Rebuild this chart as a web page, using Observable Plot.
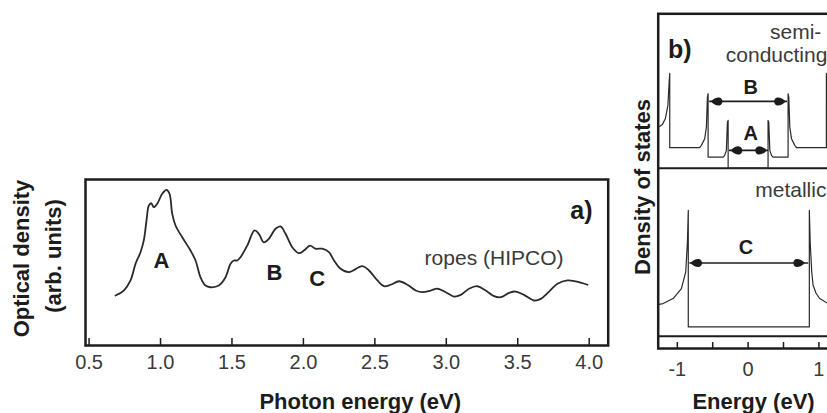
<!DOCTYPE html>
<html><head><meta charset="utf-8">
<script src="https://cdn.jsdelivr.net/npm/d3@7"></script>
<script src="https://cdn.jsdelivr.net/npm/@observablehq/plot@0.6"></script>
<style>
html,body{margin:0;padding:0;background:#fff;}
#wrap{position:relative;width:827px;height:413px;overflow:hidden;background:#fff;}
#wrap svg{position:absolute;top:0;}
</style></head><body><div id="wrap"></div>
<script>
// ---------- Panel a: optical density of HIPCO ropes ----------
const photonEnergy = [0.685,0.743,0.790,0.825,0.860,0.883,0.902,0.918,0.935,0.953,0.977,1.012,1.042,1.063,
  1.082,1.105,1.152,1.210,1.245,1.280,1.315,1.350,1.408,1.455,1.490,1.513,1.537,1.560,
  1.607,1.658,1.688,1.723,1.758,1.805,1.840,1.875,1.922,1.968,2.004,2.046,2.085,2.132,2.179,2.214,
  2.260,2.319,2.412,2.459,2.518,2.564,2.611,2.669,2.728,2.786,2.833,2.891,2.938,2.996,3.054,3.101,
  3.159,3.218,3.276,3.334,3.381,3.439,3.486,3.544,3.614,3.661,3.719,3.778,3.848,3.906,3.988];
const opticalDensity = [0.301,0.331,0.392,0.492,0.562,0.633,0.753,0.843,0.857,0.833,0.854,0.914,0.938,0.914,
  0.793,0.723,0.652,0.572,0.512,0.411,0.361,0.351,0.361,0.411,0.492,0.512,0.512,0.532,
  0.602,0.693,0.673,0.622,0.643,0.703,0.717,0.673,0.592,0.556,0.572,0.602,0.583,0.583,0.562,0.512,
  0.462,0.442,0.478,0.452,0.392,0.357,0.366,0.387,0.366,0.331,0.321,0.331,0.342,0.321,0.295,0.305,
  0.342,0.357,0.331,0.297,0.291,0.317,0.325,0.305,0.271,0.281,0.325,0.372,0.392,0.386,0.366];
const xTicksA = [0.5,1.0,1.5,2.0,2.5,3.0,3.5,4.0];
const bandLabelsA = ["A","B","C"];
const bandLabelsAEnergy = [1.006,1.798,2.097];
const bandLabelsALevel = [0.512,0.438,0.402];

// ---------- Panel b: density of states ----------
const semiEnergy = [-1.253,-1.210,-1.168,-1.133,-1.114,-1.107,-1.107,-0.684,-0.660,-0.613,-0.589,-0.575,-0.565,-0.565,
  -0.353,-0.331,-0.307,-0.292,-0.282,-0.282,0.282,0.282,0.292,0.307,0.331,0.353,
  0.565,0.565,0.575,0.589,0.613,0.660,0.684,1.106,1.106,1.114,1.133,1.168,1.210,1.260];
const semiDOS = [6.636,6.696,6.875,7.263,8.009,8.218,6.000,6.000,6.069,6.269,6.615,7.510,7.612,5.719,
  5.719,5.770,5.919,6.764,6.815,5.388,5.388,6.815,6.764,5.919,5.770,5.719,
  5.719,7.612,7.510,6.615,6.269,6.069,6.000,6.000,8.218,8.009,7.263,6.875,6.696,6.630];
const semiBaseline = [5.388];
const metalEnergy = [-1.260,-1.201,-1.059,-0.942,-0.881,-0.857,-0.845,-0.845,0.865,0.865,0.877,0.899,0.918,0.960,1.011,1.130,1.260];
const metalDOS = [1.320,1.343,1.493,1.791,2.287,3.182,4.128,0.645,0.645,4.128,3.182,2.287,1.890,1.650,1.493,1.343,1.300];
const metalBaseline = [0.367];
const gapNames = ["A","B","C"];
const gapFrom = [-0.27,-0.55,-0.83];
const gapTo = [0.28,0.55,0.85];
const gapLevel = [5.919,7.382,2.555];
const headLeft = [-0.16,-0.441,-0.730];
const headRight = [0.18,0.446,0.717];
const gapLabelEnergy = [0.037,0.037,-0.031];
const gapLabelLevel = [6.418,7.809,3.009];
const xTicksB = [-1,-0.5,0,0.5,1];

const FONT = "'Liberation Sans', Arial, Helvetica, sans-serif";
const ink = "#1c1c1c";
const baseStyle = {background:"transparent", fontFamily:FONT, maxWidth:"none", overflow:"visible", color:"#3a3a3a"};

const curveA = photonEnergy.map((e,i)=>({e, v: opticalDensity[i]}));
const labA = bandLabelsA.map((t,i)=>({t, e: bandLabelsAEnergy[i], v: bandLabelsALevel[i]}));
const boldLabel = {fontSize:22, fontWeight:"bold", fill:ink, textAnchor:"middle", lineAnchor:"middle"};

const plotA = Plot.plot({
  width: 640, height: 413,
  marginLeft: 85, marginRight: 32.3, marginTop: 179, marginBottom: 68,
  x: {domain: [0.475, 4.133]},
  y: {domain: [0, 1], axis: null},
  style: baseStyle,
  marks: [
    Plot.line(curveA, {x:"e", y:"v", curve:"catmull-rom", stroke:"#2a2a2a", strokeWidth:1.8}),
    Plot.ruleX(xTicksA, {y1:0, y2:0.042, stroke:ink, strokeWidth:1.5}),
    Plot.axisX({ticks: xTicksA, tickSize:0, tickPadding:9.5, tickFormat: d=>d.toFixed(1), fontSize:20, label:null}),
    Plot.frame({stroke:ink, strokeWidth:2.5}),
    Plot.text(labA, {x:"e", y:"v", text:"t", fontSize:22, fontWeight:"bold", fill:ink}),
    Plot.text(["ropes (HIPCO)"], {x:3.334, y:0.528, fontSize:21, fill:"#3a3a3a"}),
    Plot.text(["a)"], {x:3.945, y:0.809, fontSize:25, fontWeight:"bold", fill:ink}),
    Plot.text(["Optical density"], {...boldLabel, frameAnchor:"left", dx:-64, dy:-4, rotate:-90}),
    Plot.text(["(arb. units)"], {...boldLabel, frameAnchor:"left", dx:-32, dy:-6.5, rotate:-90}),
    Plot.text(["Photon energy (eV)"], {...boldLabel, frameAnchor:"bottom", dx:13.4, dy:56.7})
  ]
});
plotA.style.left = "0px";

const tear = (dir) => ({draw(ctx, size){
  const s = Math.sqrt(size/Math.PI)/5, k = dir*s;
  ctx.moveTo(-6*k, 0);
  ctx.quadraticCurveTo(-2*k, -4.4*s, 2.5*k, -4*s);
  ctx.bezierCurveTo(6.5*k, -3.5*s, 6.5*k, 3.5*s, 2.5*k, 4*s);
  ctx.quadraticCurveTo(-2*k, 4.4*s, -6*k, 0);
  ctx.closePath();
}});

const semi = semiEnergy.map((e,i)=>({e, d: semiDOS[i]}));
const metal = metalEnergy.map((e,i)=>({e, d: metalDOS[i]}));
const gaps = gapNames.map((n,i)=>({n, x1:gapFrom[i], x2:gapTo[i], y:gapLevel[i], hl:headLeft[i], hr:headRight[i], lx:gapLabelEnergy[i], ly:gapLabelLevel[i]}));

const plotB = Plot.plot({
  width: 300, height: 413,
  marginLeft: 57.7, marginRight: 62.5, marginTop: 13.3, marginBottom: 65,
  x: {domain: [-1.27, 1.27]},
  y: {domain: [0, 10], axis: null},
  style: baseStyle,
  marks: [
    Plot.ruleY(semiBaseline, {stroke:ink, strokeWidth:2}),
    Plot.ruleY(metalBaseline, {stroke:ink, strokeWidth:2}),
    Plot.line(semi, {x:"e", y:"d", stroke:"#2a2a2a", strokeWidth:1.2}),
    Plot.line(metal, {x:"e", y:"d", stroke:"#2a2a2a", strokeWidth:1.2}),
    Plot.link(gaps, {x1:"x1", x2:"x2", y1:"y", y2:"y", stroke:ink, strokeWidth:1.6}),
    Plot.dot(gaps, {x:"hl", y:"y", r:5, symbol: tear(1), fill:ink, stroke:"none"}),
    Plot.dot(gaps, {x:"hr", y:"y", r:5, symbol: tear(-1), fill:ink, stroke:"none"}),
    Plot.text(gaps, {x:"lx", y:"ly", text:"n", fontSize:20, fontWeight:"bold", fill:ink}),
    Plot.ruleX(xTicksB, {y1:0, y2:0.18, stroke:ink, strokeWidth:1.5}),
    Plot.axisX({ticks: xTicksB, tickSize:0, tickPadding:13.5, tickFormat: d=>Number.isInteger(d)?String(d):"", fontSize:20, label:null}),
    Plot.frame({stroke:ink, strokeWidth:2.5}),
    Plot.text(["b)"], {x:-0.966, y:8.904, fontSize:25, fontWeight:"bold", fill:ink}),
    Plot.text(["semi-"], {x:1.035, y:9.451, textAnchor:"end", fontSize:21, fill:"#3a3a3a"}),
    Plot.text(["conducting"], {x:1.12, y:8.755, textAnchor:"end", fontSize:21, fill:"#3a3a3a"}),
    Plot.text(["metallic"], {x:1.106, y:4.725, textAnchor:"end", fontSize:21, fill:"#3a3a3a"}),
    Plot.text(["Density of states"], {...boldLabel, frameAnchor:"left", dx:-15.7, dy:5.8, rotate:-90}),
    Plot.text(["Energy (eV)"], {...boldLabel, x:0.077, frameAnchor:"bottom", dy:53.7})
  ]
});
plotB.style.left = "600px";

const wrap = document.getElementById("wrap");
wrap.appendChild(plotA);
wrap.appendChild(plotB);
</script>
</body></html>
